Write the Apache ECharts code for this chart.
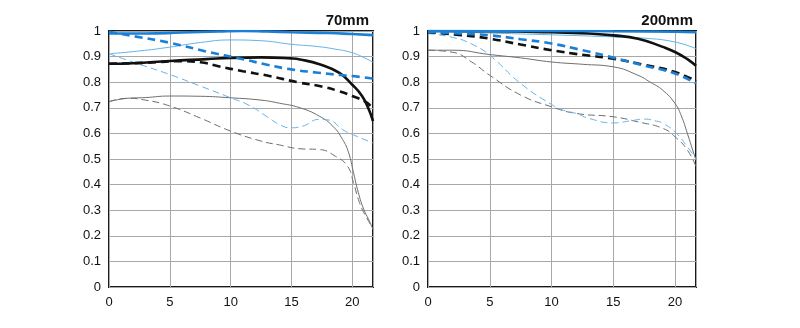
<!DOCTYPE html>
<html>
<head>
<meta charset="utf-8">
<script src="https://cdn.jsdelivr.net/npm/echarts@6/dist/echarts.min.js"></script>
<style>html,body{margin:0;padding:0;background:#fff}#c{width:800px;height:328px}</style>
</head>
<body>
<div id="c"></div>
<script>
// Tick labels
const xTicks = [0, 5, 10, 15, 20];
const yTicks = [0, 0.1, 0.2, 0.3, 0.4, 0.5, 0.6, 0.7, 0.8, 0.9, 1];
const titles = ['70mm', '200mm'];

// 70mm chart [image height, contrast]
const L_S10 = [[0,0.99],[3,0.99],[6,0.994],[9,0.998],[11,1.0],[13,0.998],[15,0.995],[18,0.992],[20,0.988],[21.7,0.984]];
const L_M10 = [[0,0.997],[2,0.98],[5,0.954],[8,0.92],[11,0.89],[13,0.868],[15,0.85],[17,0.838],[19,0.828],[20,0.824],[21.7,0.814]];
const L_S30 = [[0,0.911],[2.5,0.922],[5,0.937],[7.5,0.955],[10,0.965],[12.5,0.962],[15,0.948],[17,0.94],[18.5,0.93],[20,0.915],[21,0.895],[21.7,0.878]];
const L_M30 = [[0,0.911],[2.5,0.87],[5,0.83],[7.5,0.785],[10,0.739],[11.5,0.71],[13,0.665],[14,0.635],[14.9,0.622],[15.9,0.628],[17.3,0.655],[18.1,0.652],[19.2,0.615],[20.3,0.59],[21.7,0.563]];
const L_S10k = [[0,0.872],[2,0.874],[5,0.883],[8,0.89],[10,0.895],[12.5,0.897],[15,0.893],[15.7,0.889],[17.3,0.87],[18.9,0.837],[20,0.79],[20.8,0.746],[21.35,0.694],[21.7,0.648]];
const L_M10k = [[0,0.872],[3,0.876],[6,0.882],[7.5,0.878],[9,0.862],[11,0.843],[13,0.826],[15.7,0.798],[17.3,0.785],[18.9,0.765],[20,0.746],[21.2,0.72],[21.7,0.694]];
const L_S30g = [[0,0.724],[1.5,0.737],[3,0.74],[5,0.746],[7.5,0.745],[10,0.739],[12.5,0.73],[14,0.718],[15.7,0.70],[17.3,0.667],[18.4,0.628],[19.2,0.576],[19.7,0.524],[20.1,0.446],[20.5,0.368],[20.95,0.302],[21.35,0.263],[21.7,0.224]];
const L_M30g = [[0,0.724],[1.5,0.737],[3,0.73],[5,0.707],[7.5,0.66],[10,0.609],[12.5,0.57],[14,0.555],[15.7,0.54],[17.3,0.537],[18.6,0.511],[19.6,0.472],[20.1,0.407],[20.5,0.342],[20.95,0.29],[21.7,0.23]];

// 200mm chart
const R_S10 = [[0,1.0],[10,1.0],[15,0.999],[20,0.997],[21.7,0.995]];
const R_S30 = [[0,1.0],[5,0.992],[10,0.985],[15,0.977],[17.5,0.972],[20,0.957],[21.7,0.931]];
const R_S10k = [[0,1.0],[5,0.999],[10,0.995],[13,0.99],[15,0.983],[17,0.97],[19,0.938],[20,0.918],[21,0.89],[21.7,0.864]];
const R_M10 = [[0,0.997],[2.5,0.99],[5,0.983],[7.5,0.968],[10,0.951],[12.5,0.925],[15,0.896],[17.5,0.865],[20,0.834],[21.7,0.795]];
const R_M10k = [[0,0.995],[2.5,0.985],[5,0.97],[7.5,0.947],[10,0.925],[12.5,0.907],[15,0.892],[17.5,0.868],[20,0.84],[21.7,0.804]];
const R_S30g = [[0,0.925],[2,0.925],[5,0.908],[7.5,0.895],[10,0.879],[12.5,0.87],[15,0.86],[17,0.827],[18,0.8],[19,0.769],[20,0.717],[20.5,0.67],[21,0.6],[21.4,0.54],[21.7,0.496]];
const R_M30 = [[0,0.99],[2,0.975],[3.5,0.95],[5,0.905],[7.5,0.795],[10,0.713],[11,0.69],[12,0.678],[13,0.659],[15,0.641],[16.5,0.65],[17.5,0.656],[18.5,0.648],[19,0.64],[20,0.606],[21,0.548],[21.7,0.5]];
const R_M30g = [[0,0.925],[2,0.917],[3.5,0.88],[5,0.827],[7.5,0.75],[10,0.704],[12,0.678],[15,0.665],[17,0.645],[19,0.62],[20,0.587],[21,0.535],[21.7,0.47]];

const BLUE = '#1a7fd6', LBLUE = '#62b4ea', BLACK = '#111111', GREY = '#6e6e6e';
const styles = {
  S30g: {color: GREY, width: 1, type: 'solid'},
  M30g: {color: GREY, width: 1, type: [7, 4]},
  S30: {color: LBLUE, width: 1, type: 'solid'},
  M30: {color: LBLUE, width: 1, type: [7, 4]},
  S10k: {color: BLACK, width: 2.6, type: 'solid'},
  M10k: {color: BLACK, width: 2.6, type: [8, 5]},
  S10: {color: BLUE, width: 2.6, type: 'solid'},
  M10: {color: BLUE, width: 2.6, type: [8, 5]}
};
const leftSets = {S30g: L_S30g, M30g: L_M30g, S30: L_S30, M30: L_M30, S10k: L_S10k, M10k: L_M10k, S10: L_S10, M10: L_M10};
const rightSets = {S30g: R_S30g, M30g: R_M30g, S30: R_S30, M30: R_M30, S10k: R_S10k, M10k: R_M10k, S10: R_S10, M10: R_M10};

function mk(sets, idx) {
  return Object.keys(sets).map(k => ({
    type: 'line', xAxisIndex: idx, yAxisIndex: idx, data: sets[k],
    smooth: true, showSymbol: false, symbol: 'none', silent: true,
    lineStyle: styles[k], z: 3
  }));
}

const lab = {color: '#111', fontSize: 13, fontFamily: 'Liberation Sans, Arial, sans-serif', fontWeight: 500};
function xA(i) {
  return {type: 'value', gridIndex: i, min: 0, max: 21.7, interval: 5,
    axisLine: {show: false}, axisTick: {show: false},
    axisLabel: Object.assign({margin: 9, formatter: v => (xTicks.indexOf(v) >= 0 ? String(v) : '')}, lab),
    splitLine: {show: true, lineStyle: {color: '#a8a8a8', width: 1}}};
}
function yA(i) {
  return {type: 'value', gridIndex: i, min: 0, max: 1, interval: 0.1,
    axisLine: {show: false}, axisTick: {show: false},
    axisLabel: Object.assign({margin: 8, formatter: v => {const r = Math.round(v * 10) / 10; return yTicks.indexOf(r) >= 0 ? String(r) : '';}}, lab),
    splitLine: {show: true, lineStyle: {color: '#a8a8a8', width: 1}}};
}

const tStyle = {fontSize: 15, fontWeight: 'bold', color: '#111', fontFamily: 'Liberation Sans, Arial, sans-serif'};
const chart = echarts.init(document.getElementById('c'), null, {renderer: 'canvas'});
chart.setOption({
  animation: false,
  backgroundColor: '#fff',
  title: [
    {text: titles[0], right: 800 - 374, top: 8, textStyle: tStyle},
    {text: titles[1], right: 800 - 698, top: 8, textStyle: tStyle}
  ],
  grid: [
    {left: 109, top: 31, width: 264, height: 256, show: true, borderColor: '#1a1a1a', borderWidth: 2, backgroundColor: 'transparent'},
    {left: 428, top: 31, width: 268, height: 256, show: true, borderColor: '#1a1a1a', borderWidth: 2, backgroundColor: 'transparent'}
  ],
  xAxis: [xA(0), xA(1)],
  yAxis: [yA(0), yA(1)],
  series: mk(leftSets, 0).concat(mk(rightSets, 1))
});
</script>
</body>
</html>
